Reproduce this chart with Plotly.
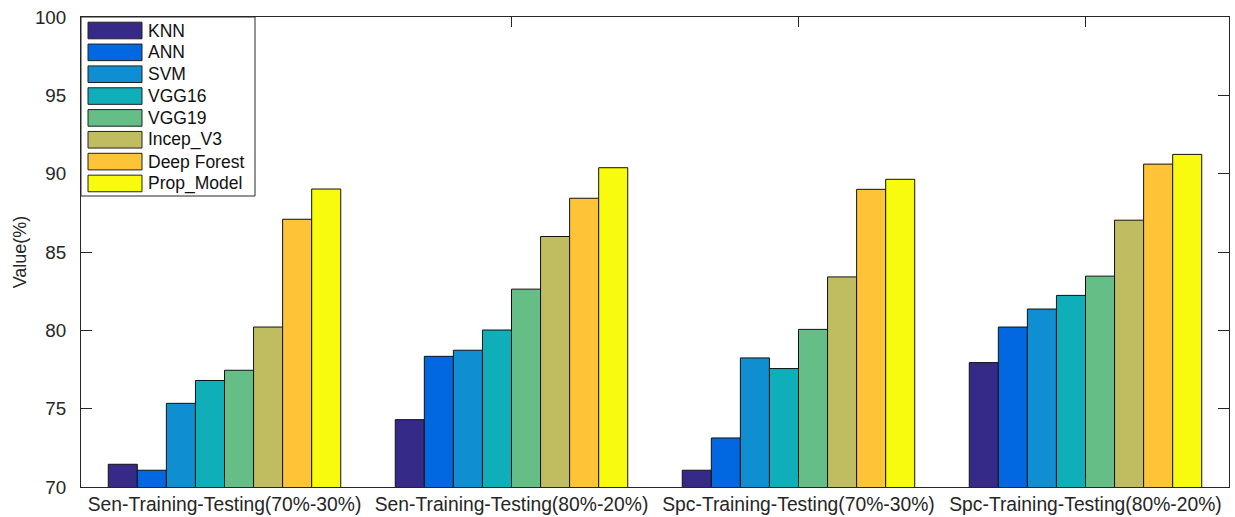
import plotly.graph_objects as go

categories = [
    "Sen-Training-Testing(70%-30%)",
    "Sen-Training-Testing(80%-20%)",
    "Spc-Training-Testing(70%-30%)",
    "Spc-Training-Testing(80%-20%)",
]
series_names = ["KNN", "ANN", "SVM", "VGG16", "VGG19", "Incep_V3", "Deep Forest", "Prop_Model"]
knn = [71.45, 74.3, 71.07, 77.94]
ann = [71.07, 78.34, 73.13, 80.21]
svm = [75.34, 78.73, 78.24, 81.36]
vgg16 = [76.8, 80.02, 77.56, 82.23]
vgg19 = [77.45, 82.63, 80.06, 83.46]
incep_v3 = [80.21, 85.99, 83.41, 87.03]
deep_forest = [87.09, 88.43, 89.0, 90.61]
prop_model = [89.02, 90.38, 89.64, 91.23]
series_values = [knn, ann, svm, vgg16, vgg19, incep_v3, deep_forest, prop_model]
colors = ["#352A87", "#0268E1", "#108ED2", "#0FAEB9", "#65BE86", "#C0BC60", "#FFC337", "#F9FB0E"]
y_ticks = [70, 75, 80, 85, 90, 95, 100]

W, H = 1235, 517
L, R, T, B = 81, 1229, 17, 487

fig = go.Figure()
for name, vals, col in zip(series_names, series_values, colors):
    fig.add_trace(go.Bar(
        x=categories, y=vals, name=name,
        marker=dict(color=col, line=dict(color="#111111", width=1)),
        showlegend=False,
    ))

axis_col = "#262626"
fig.update_layout(
    width=W, height=H,
    margin=dict(l=L, r=W - R, t=T, b=H - B, pad=0, autoexpand=False),
    paper_bgcolor="white", plot_bgcolor="white",
    barmode="group", bargap=0.19, bargroupgap=0,
    font=dict(family="Liberation Sans, Arial, sans-serif", color=axis_col),
)
fig.update_xaxes(
    type="category", range=[-0.5, 3.5], automargin=False,
    showline=True, linecolor=axis_col, linewidth=1, mirror="ticks",
    ticks="inside", ticklen=10, tickcolor=axis_col,
    tickfont=dict(size=19.3, color=axis_col), showgrid=False,
    ticklabelstandoff=0,
)
fig.update_yaxes(
    range=[70, 100], tickvals=y_ticks, automargin=False,
    showline=True, linecolor=axis_col, linewidth=1, mirror="ticks",
    ticks="inside", ticklen=11, tickcolor=axis_col,
    tickfont=dict(size=18.8, color=axis_col), showgrid=False, zeroline=False,
    title=dict(text="Value(%)", font=dict(size=18, color=axis_col), standoff=3),
    ticklabelstandoff=10,
)

# Manual legend (wide MATLAB-style swatches)
def px_x(x):
    return (x - L) / (R - L)

def px_y(y):
    return (B - y) / (B - T)

shapes = [dict(type="rect", xref="paper", yref="paper",
               x0=px_x(81), x1=px_x(255), y0=px_y(196), y1=px_y(17),
               line=dict(color=axis_col, width=1), fillcolor="white", layer="above")]
annotations = []
for i, (name, col) in enumerate(zip(series_names, colors)):
    cy = 30.5 + i * 21.85
    shapes.append(dict(type="rect", xref="paper", yref="paper",
                       x0=px_x(88), x1=px_x(142), y0=px_y(cy + 8.3), y1=px_y(cy - 8.3),
                       line=dict(color="#222222", width=1), fillcolor=col, layer="above"))
    annotations.append(dict(xref="paper", yref="paper", x=px_x(146), y=px_y(cy),
                            text=name, showarrow=False, xanchor="left", yanchor="middle",
                            font=dict(size=17.5, color="#111111")))
fig.update_layout(shapes=shapes, annotations=annotations)

fig.write_html("out.html")
